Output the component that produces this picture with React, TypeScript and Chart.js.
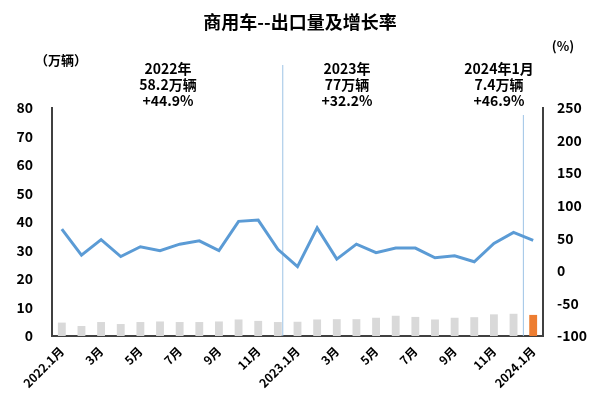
import React, { useEffect, useRef } from "react";
import { Chart, registerables } from "chart.js";

Chart.register(...registerables);

const CATEGORIES = [
  "2022.1月", "2月", "3月", "4月", "5月", "6月", "7月", "8月", "9月", "10月", "11月", "12月",
  "2023.1月", "2月", "3月", "4月", "5月", "6月", "7月", "8月", "9月", "10月", "11月", "12月",
  "2024.1月",
];

// 出口量（万辆）
const EXPORT_VOLUME = [
  4.7, 3.5, 4.9, 4.2, 4.9, 5.1, 4.9, 4.9, 5.1, 5.8, 5.3, 4.9,
  5.0, 5.8, 5.9, 5.9, 6.4, 7.1, 6.7, 5.8, 6.4, 6.6, 7.6, 7.8,
  7.4,
];

// 增长率（%）
const GROWTH_RATE = [
  64, 24, 48, 22, 37, 31, 41, 46, 31, 76, 78, 33,
  6.5, 66, 18, 41, 28, 35, 35, 20, 23, 14, 42, 59,
  46.9,
];

const TITLE = "商用车--出口量及增长率";
const LEFT_UNIT = "（万辆）";
const RIGHT_UNIT = "(%)";
const ANNOTATIONS = [
  ["2022年", "58.2万辆", "+44.9%"],
  ["2023年", "77万辆", "+32.2%"],
  ["2024年1月", "7.4万辆", "+46.9%"],
];
const DIVIDERS = [11.25, 23.5];

const FONT = "'Noto Sans CJK SC', 'Noto Sans', sans-serif";

const overlayPlugin = {
  id: "overlay",
  beforeDatasetsDraw(chart: any) {
    const { ctx, scales } = chart;
    const x = scales.x;
    const bottom = chart.chartArea.bottom;
    const step = x.getPixelForValue(1) - x.getPixelForValue(0);
    const tops = [65, 115];
    ctx.save();
    ctx.strokeStyle = "#9dc3e6";
    ctx.lineWidth = 1;
    DIVIDERS.forEach((d, i) => {
      const px = x.getPixelForValue(0) + d * step;
      ctx.beginPath();
      ctx.moveTo(px, tops[i]);
      ctx.lineTo(px, bottom);
      ctx.stroke();
    });
    ctx.restore();
  },
  afterDraw(chart: any) {
    const { ctx } = chart;
    ctx.save();
    ctx.fillStyle = "#000";
    ctx.textAlign = "center";
    ctx.textBaseline = "middle";
    ctx.font = `bold 18px ${FONT}`;
    ctx.fillText(TITLE, 300, 22);
    ctx.font = `bold 13px ${FONT}`;
    ctx.fillText(LEFT_UNIT, 61, 60);
    ctx.fillText(RIGHT_UNIT, 563, 46);
    ctx.font = `bold 14px ${FONT}`;
    const centers = [168, 347, 499];
    ANNOTATIONS.forEach((lines, i) => {
      lines.forEach((t, j) => {
        ctx.fillText(t, centers[i], 69 + j * 16);
      });
    });
    ctx.restore();
  },
};

export default function App() {
  const ref = useRef<HTMLCanvasElement | null>(null);

  useEffect(() => {
    document.body.style.margin = "0";
    const canvas = ref.current;
    if (!canvas) return;
    const last = CATEGORIES.length - 1;
    const barColors = CATEGORIES.map((_, i) => (i === last ? "#ed7d31" : "#d9d9d9"));
    const chart = new Chart(canvas, {
      type: "bar",
      data: {
        labels: CATEGORIES,
        datasets: [
          {
            type: "line",
            label: "增长率",
            data: GROWTH_RATE,
            yAxisID: "y1",
            borderColor: "#5b9bd5",
            borderWidth: 3,
            pointRadius: 0,
            tension: 0,
            order: 0,
          } as any,
          {
            type: "bar",
            label: "出口量",
            data: EXPORT_VOLUME,
            yAxisID: "y",
            backgroundColor: barColors,
            categoryPercentage: 1,
            barPercentage: 0.4,
            order: 1,
          },
        ],
      },
      options: {
        animation: false,
        responsive: false,
        maintainAspectRatio: false,
        layout: { padding: { top: 108, left: 0, right: 0, bottom: 0 } },
        plugins: {
          legend: { display: false },
          tooltip: { enabled: false },
          title: { display: false },
        },
        scales: {
          x: {
            grid: { display: false, drawTicks: false },
            border: { display: true, color: "#404040", width: 2 },
            afterFit(scale: any) {
              scale.height = 61;
            },
            ticks: {
              autoSkip: false,
              maxRotation: 45,
              minRotation: 45,
              padding: 8,
              color: "#000",
              font: { family: FONT, size: 12, weight: "bold" },
              callback(_v: any, i: number) {
                return i % 2 === 0 ? CATEGORIES[i] : "";
              },
            },
          },
          y: {
            position: "left",
            min: 0,
            max: 80,
            grid: { display: false, drawTicks: false },
            border: { display: true, color: "#404040", width: 2 },
            afterFit(scale: any) {
              scale.width = 52;
            },
            ticks: {
              stepSize: 10,
              padding: 19,
              color: "#000",
              font: { family: FONT, size: 14, weight: "bold" },
            },
          },
          y1: {
            position: "right",
            min: -100,
            max: 250,
            grid: { display: false, drawTicks: false },
            border: { display: true, color: "#404040", width: 2 },
            afterFit(scale: any) {
              scale.width = 57;
            },
            ticks: {
              stepSize: 50,
              padding: 14,
              color: "#000",
              font: { family: FONT, size: 14, weight: "bold" },
            },
          },
        },
      },
      plugins: [overlayPlugin],
    });
    return () => chart.destroy();
  }, []);

  return (
    <div style={{ position: "absolute", left: 0, top: 0, width: 600, height: 397, background: "#fff" }}>
      <canvas ref={ref} width={600} height={397} style={{ width: 600, height: 397 }} />
    </div>
  );
}
